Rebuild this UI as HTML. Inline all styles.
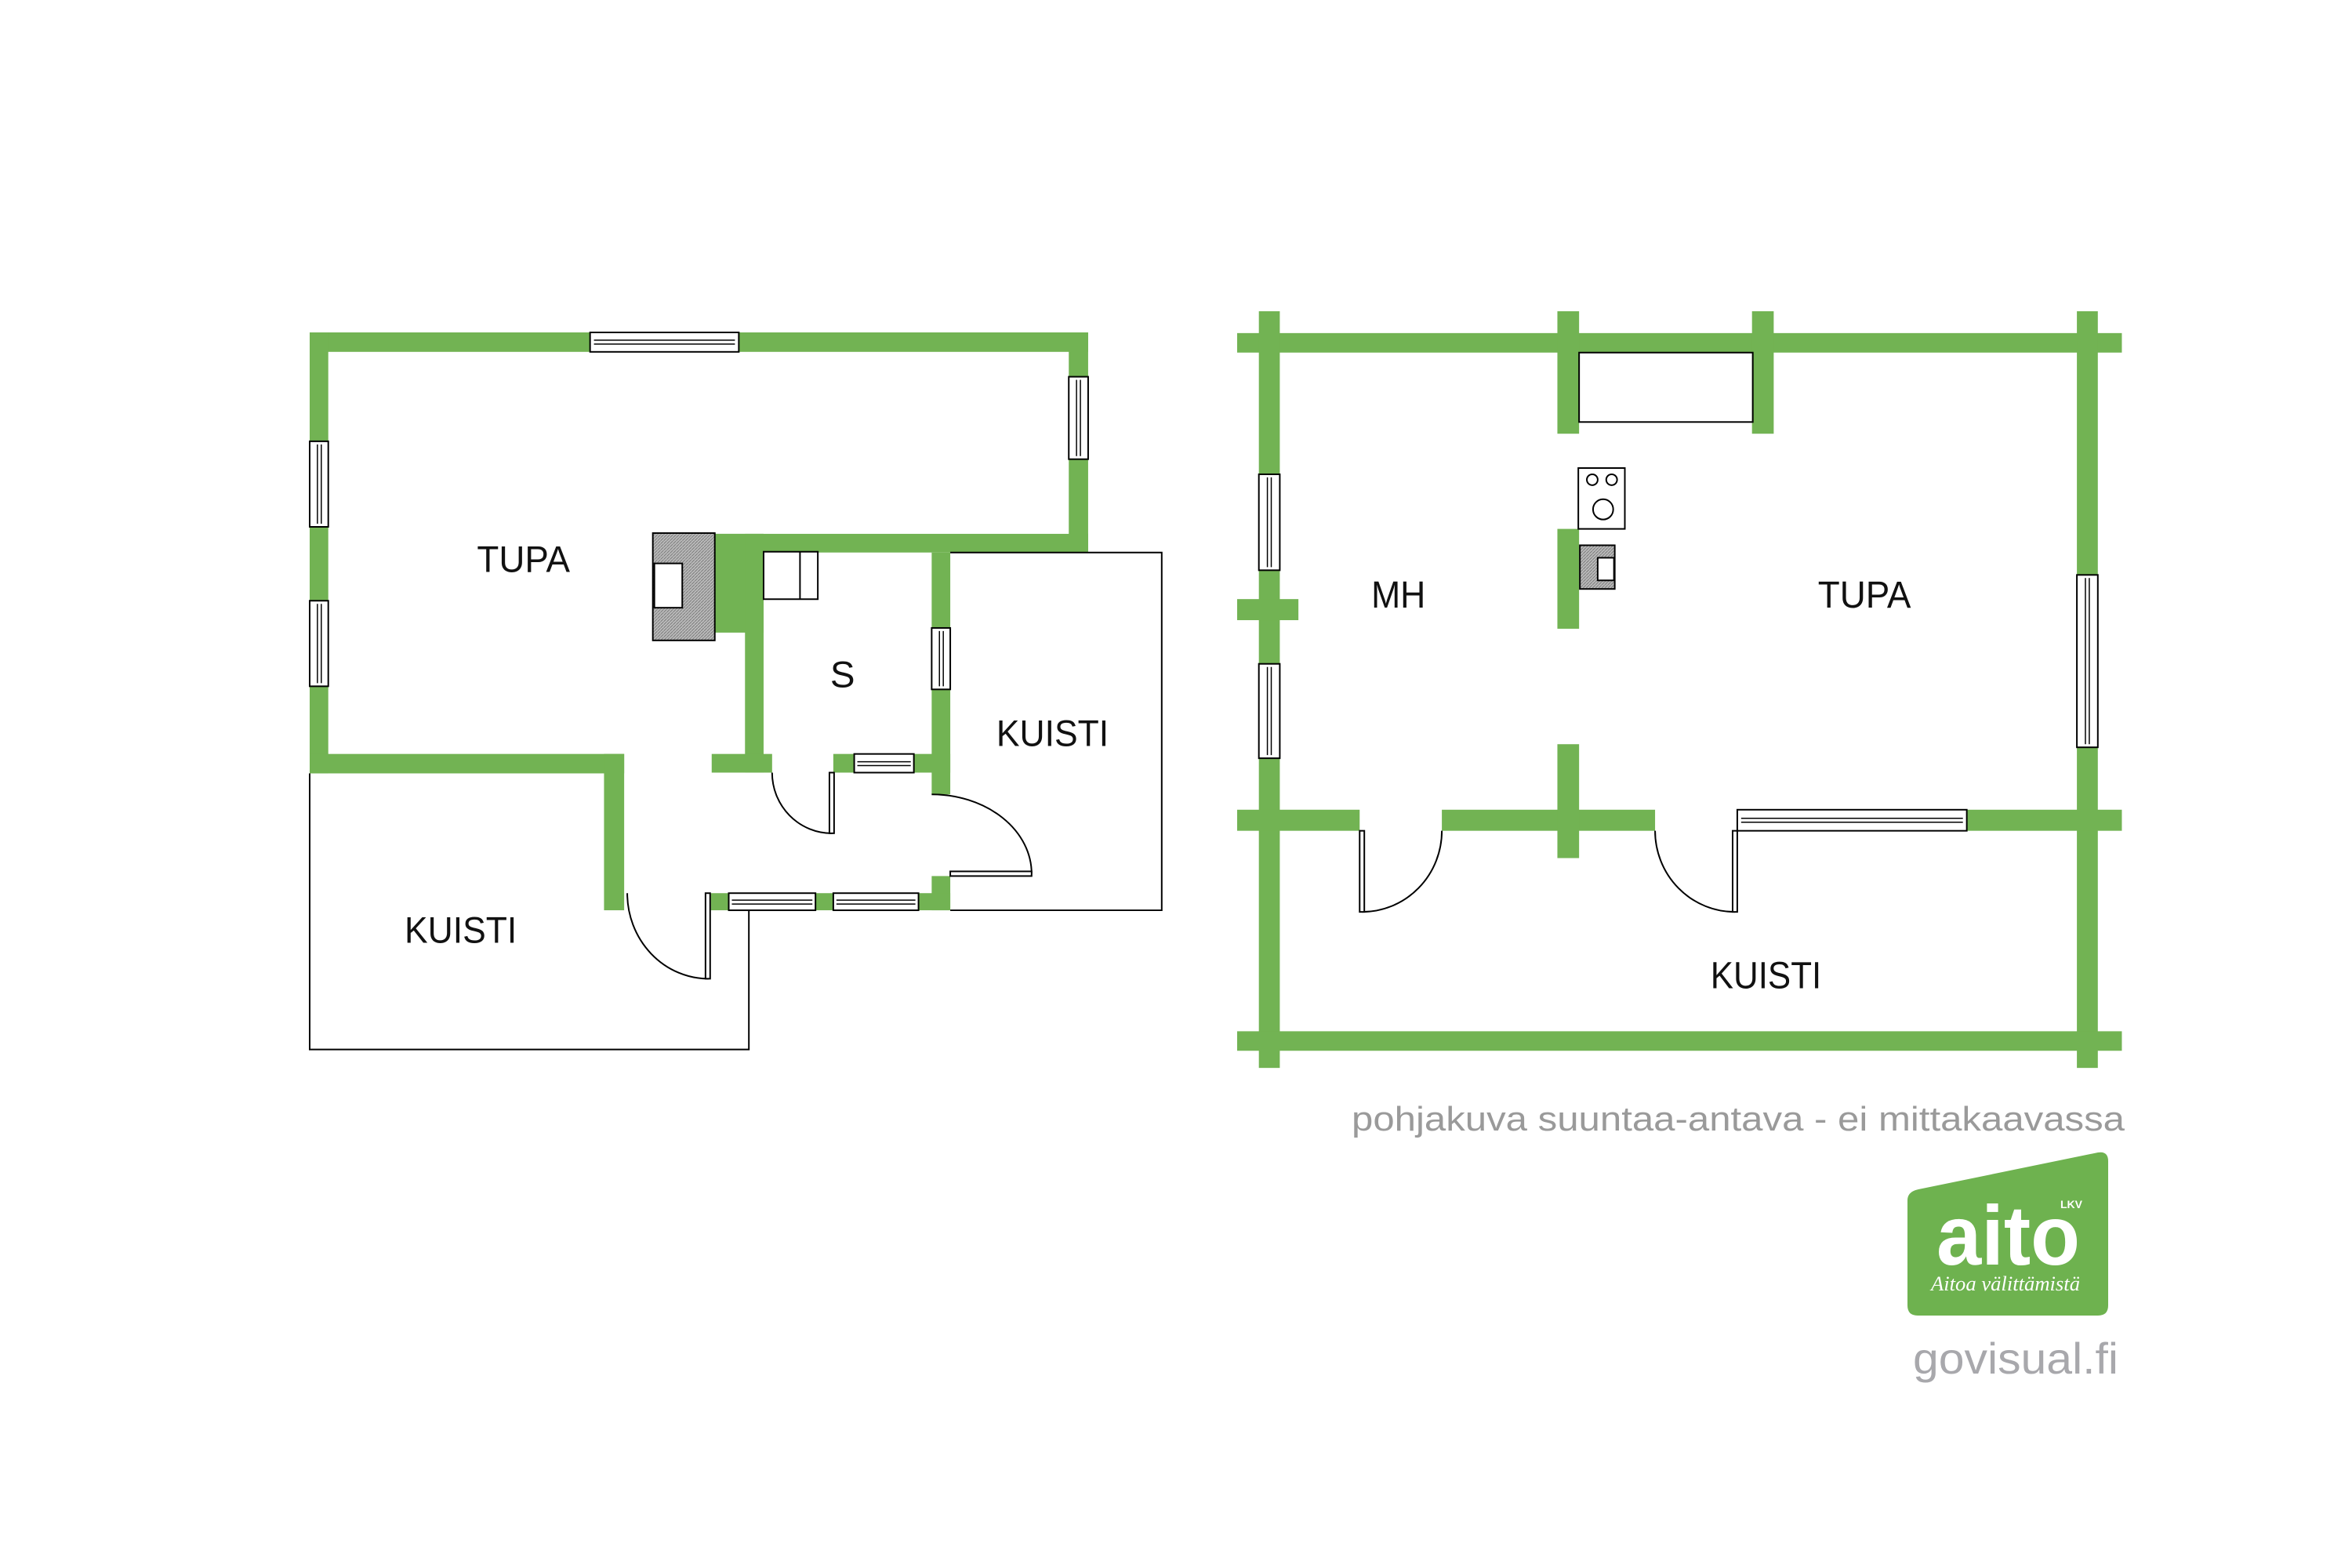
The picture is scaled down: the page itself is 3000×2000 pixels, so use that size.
<!DOCTYPE html>
<html><head><meta charset="utf-8"><style>html,body{margin:0;padding:0;background:#fff}svg{display:block}</style></head><body>
<svg width="3000" height="2000" viewBox="0 0 3000 2000" xmlns="http://www.w3.org/2000/svg">
<defs>
<pattern id="h" width="4" height="4" patternUnits="userSpaceOnUse"><rect width="4" height="4" fill="#bdbdbd"/><path d="M0,4 L4,0" stroke="#777" stroke-width="1"/></pattern>
</defs>
<rect width="3000" height="2000" fill="#fff"/>
<!-- LEFT PLAN -->
<g transform="translate(395,424) scale(0.988,0.992) translate(-395,-424)">
<g fill="#72b353">
<rect x="395" y="424" width="1005" height="25"/>
<rect x="395" y="424" width="24" height="567"/>
<rect x="1375" y="424" width="25" height="283"/>
<rect x="918" y="683" width="482" height="24"/>
<rect x="918" y="683" width="63" height="127"/>
<rect x="957" y="683" width="24" height="307"/>
<rect x="395" y="966" width="406" height="25"/>
<rect x="775" y="966" width="26" height="201"/>
<rect x="914" y="966" width="78" height="24"/>
<rect x="1071" y="966" width="151" height="24"/>
<rect x="1198" y="707" width="24" height="311"/>
<rect x="1198" y="1123" width="24" height="44"/>
<rect x="913" y="1145" width="309" height="22"/>
</g>
<g fill="#fff" stroke="#000" stroke-width="2">
<rect x="757" y="424" width="192" height="25"/>
<rect x="1098" y="966" width="77" height="24"/>
<rect x="936" y="1145" width="112" height="22"/>
<rect x="1071" y="1145" width="110" height="22"/>
<rect x="1375" y="481" width="25" height="106"/>
<rect x="395" y="564" width="24" height="110"/>
<rect x="395" y="769" width="24" height="110"/>
<rect x="1198" y="804" width="24" height="79"/>
</g>
<g stroke="#000" stroke-width="1.5" fill="none">
<path d="M762,434 H944 M762,439 H944"/>
<path d="M1102,976 H1171 M1102,981 H1171"/>
<path d="M940,1154 H1044 M940,1159 H1044 M1075,1154 H1177 M1075,1159 H1177"/>
<path d="M1385,485 V583 M1390,485 V583 M405,568 V670 M410,568 V670 M405,773 V875 M410,773 V875 M1208,808 V879 M1213,808 V879"/>
</g>
<g stroke="#000" stroke-width="2" fill="none">
<path d="M395,991 V1346 H962 V1167"/>
<path d="M1222,707 H1495 V1167 H1222"/>
<rect x="981" y="706" width="70" height="61" fill="#fff"/>
<path d="M1028,706 V767"/>
<path d="M805,1145 A105,110 0 0 0 910,1255"/>
<rect x="906" y="1145" width="6" height="110" fill="#fff"/>
<path d="M992,990 A77,78 0 0 0 1069,1068"/>
<rect x="1066" y="990" width="6" height="78" fill="#fff"/>
<path d="M1198,1018 A129,102 0 0 1 1327,1120"/>
<rect x="1222" y="1117" width="105" height="6" fill="#fff"/>
<rect x="838" y="682" width="80" height="138" fill="url(#h)"/>
<rect x="840" y="721" width="36" height="57" fill="#fff"/>
</g>
<g font-family="Liberation Sans, sans-serif" font-size="48" fill="#111" text-anchor="middle">
<text x="671" y="732" textLength="120" lengthAdjust="spacingAndGlyphs">TUPA</text>
<text x="1083" y="880">S</text>
<text x="1354" y="956" textLength="145" lengthAdjust="spacingAndGlyphs">KUISTI</text>
<text x="590" y="1209" textLength="145" lengthAdjust="spacingAndGlyphs">KUISTI</text>
</g>
</g>
<!-- RIGHT PLAN -->
<g transform="translate(1578,397) scale(0.989,0.995) translate(-1578,-397)">
<g fill="#72b353">
<rect x="1578" y="425" width="1141" height="25"/>
<rect x="1606" y="397" width="27" height="970"/>
<rect x="2661" y="397" width="27" height="970"/>
<rect x="1991" y="397" width="28" height="157"/>
<rect x="2242" y="397" width="28" height="157"/>
<rect x="1578" y="1036" width="1141" height="27"/>
<rect x="1578" y="1320" width="1141" height="25"/>
<rect x="1578" y="766" width="79" height="27"/>
<rect x="1991" y="676" width="28" height="128"/>
<rect x="1991" y="952" width="28" height="146"/>
</g>
<rect x="1736" y="1035" width="106" height="29" fill="#fff"/>
<rect x="2117" y="1035" width="106" height="29" fill="#fff"/>
<g fill="#fff" stroke="#000" stroke-width="2">
<rect x="2223" y="1036" width="296" height="27"/>
<rect x="1606" y="606" width="27" height="123"/>
<rect x="1606" y="849" width="27" height="121"/>
<rect x="2661" y="735" width="27" height="221"/>
</g>
<g stroke="#000" stroke-width="1.5" fill="none">
<path d="M2228,1047 H2514 M2228,1052 H2514"/>
<path d="M1617,610 V725 M1622,610 V725 M1617,853 V966 M1622,853 V966 M2672,739 V952 M2677,739 V952"/>
</g>
<g stroke="#000" stroke-width="2" fill="none">
<rect x="2019" y="450" width="224" height="89"/>
<path d="M1739,1167 A103,104 0 0 0 1842,1063"/>
<rect x="1736" y="1063" width="6" height="104" fill="#fff"/>
<path d="M2117,1063 A103,104 0 0 0 2220,1167"/>
<rect x="2217" y="1063" width="6" height="104" fill="#fff"/>
<rect x="2018" y="598" width="60" height="78" fill="#fff"/>
<circle cx="2036" cy="613" r="7"/><circle cx="2061" cy="613" r="7"/><circle cx="2050" cy="651" r="13"/>
<rect x="2020" y="697" width="45" height="56" fill="url(#h)"/>
<rect x="2043" y="713" width="21" height="29" fill="#fff"/>
</g>
<g font-family="Liberation Sans, sans-serif" font-size="48" fill="#111" text-anchor="middle">
<text x="1786" y="777" textLength="70" lengthAdjust="spacingAndGlyphs">MH</text>
<text x="2387" y="777" textLength="120" lengthAdjust="spacingAndGlyphs">TUPA</text>
<text x="2260" y="1265" textLength="143" lengthAdjust="spacingAndGlyphs">KUISTI</text>
</g>
</g>
<text x="1724" y="1442" font-family="Liberation Sans, sans-serif" font-size="44" fill="#9a9a9a" textLength="986" lengthAdjust="spacingAndGlyphs">pohjakuva suuntaa-antava - ei mittakaavassa</text>
<path d="M2447,1517 L2676,1470 Q2689,1468 2689,1481 L2689,1665 Q2689,1678 2676,1678 L2446,1678 Q2433,1678 2433,1665 L2433,1531 Q2433,1520 2447,1517 Z" fill="#6eb24f"/>
<text x="2470" y="1613" font-family="Liberation Sans, sans-serif" font-weight="bold" font-size="108" fill="#fff" textLength="183" lengthAdjust="spacingAndGlyphs">aito</text>
<text x="2628" y="1541" font-family="Liberation Sans, sans-serif" font-weight="bold" font-size="14" fill="#fff">LKV</text>
<text x="2558" y="1646" font-family="Liberation Serif, serif" font-style="italic" font-size="26" fill="#fff" text-anchor="middle" textLength="190" lengthAdjust="spacingAndGlyphs">Aitoa välittämistä</text>
<text x="2440" y="1752" font-family="Liberation Sans, sans-serif" font-size="56" fill="#a8a8ac" textLength="262" lengthAdjust="spacingAndGlyphs">govisual.fi</text>
</svg>
</body></html>
